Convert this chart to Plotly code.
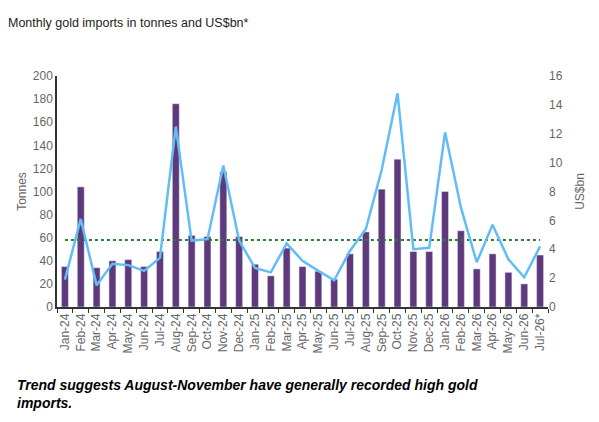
import plotly.graph_objects as go

months = ["Jan-24", "Feb-24", "Mar-24", "Apr-24", "May-24", "Jun-24", "Jul-24", "Aug-24",
          "Sep-24", "Oct-24", "Nov-24", "Dec-24", "Jan-25", "Feb-25", "Mar-25", "Apr-25",
          "May-25", "Jun-25", "Jul-25", "Aug-25", "Sep-25", "Oct-25", "Nov-25", "Dec-25",
          "Jan-26", "Feb-26", "Mar-26", "Apr-26", "May-26", "Jun-26", "Jul-26*"]

# tonnes (bars, left axis)
tonnes = [35, 104, 34, 40, 41, 35, 48, 176, 62, 61, 117, 61, 37, 27, 51, 35,
          31, 24, 46, 65, 102, 128, 48, 48, 100, 66, 33, 46, 30, 20, 45]

# US$bn (line, right axis)
usd_bn = [1.9, 6.1, 1.5, 3.0, 2.9, 2.5, 3.4, 12.5, 4.6, 4.7, 9.8, 4.6, 2.7, 2.4, 4.4, 3.2,
          2.5, 1.85, 3.9, 5.4, 9.5, 14.8, 4.0, 4.1, 12.1, 6.9, 3.1, 5.7, 3.3, 2.05, 4.2]

avg_tonnes = 58

tick_font = dict(family="Liberation Sans Narrow, Liberation Sans", size=12, color="#666666")

fig = go.Figure()
fig.add_trace(go.Bar(x=months, y=tonnes, marker_color="#5e3a7d", name="Tonnes", yaxis="y"))
fig.add_trace(go.Scatter(x=months, y=[avg_tonnes] * len(months), mode="lines",
                         line=dict(color="#2e7d32", width=2, dash="dot"), name="Average",
                         yaxis="y"))
fig.add_trace(go.Scatter(x=months, y=usd_bn, mode="lines",
                         line=dict(color="#62bdf6", width=2.5), name="US$bn", yaxis="y2"))

# page body adds an 8px margin, so the figure is a bit smaller than the window
fig.update_layout(
    width=591, height=414,
    margin=dict(l=45, r=51, t=68, b=115),
    paper_bgcolor="white", plot_bgcolor="white",
    showlegend=False,
    bargap=0.56,
    title=dict(text="Monthly gold imports in tonnes and US$bn*", x=0.0, xanchor="left",
               y=0.964, yanchor="middle",
               font=dict(family="Liberation Sans Narrow, Liberation Sans", size=12.5,
                         color="#222222")),
    xaxis=dict(type="category", tickangle=-90, tickfont=tick_font, showline=True,
               linecolor="#333333", linewidth=1.5, ticks="outside", tickson="boundaries",
               ticklen=4, tickcolor="#333333", showgrid=False),
    yaxis=dict(range=[0, 200], dtick=20, showgrid=False, zeroline=False, showline=True,
               linecolor="#333333", linewidth=1.5, tickfont=tick_font,
               title=dict(text="Tonnes", font=tick_font, standoff=4)),
    yaxis2=dict(range=[0, 16], dtick=2, overlaying="y", side="right", showgrid=False,
                zeroline=False, showline=False, tickfont=tick_font,
                title=dict(text="US$bn", font=tick_font, standoff=13)),
    annotations=[dict(text="Trend suggests August-November have generally recorded high gold<br>imports.",
                      xref="paper", yref="paper", x=-0.085, y=-0.294, xanchor="left",
                      yanchor="top", align="left", showarrow=False,
                      font=dict(family="Liberation Sans", size=14, color="black",
                                weight="bold", style="italic"))],
)

fig.write_html("out.html")
